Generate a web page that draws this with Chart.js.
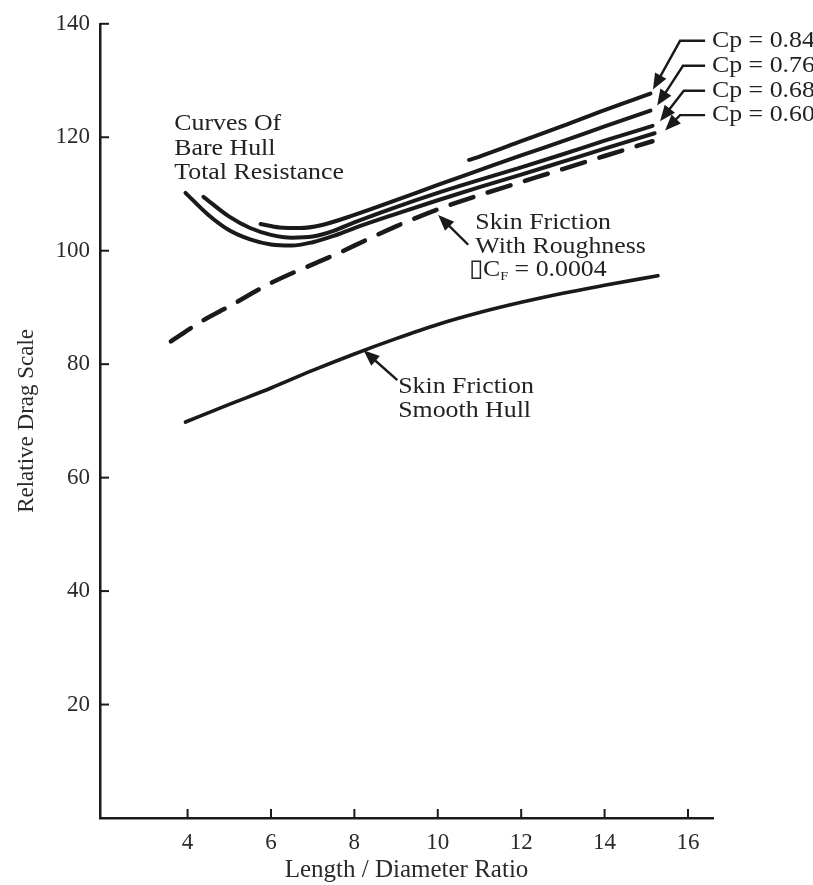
<!DOCTYPE html>
<html><head><meta charset="utf-8">
<script src="https://cdn.jsdelivr.net/npm/chart.js@4.4.0/dist/chart.umd.min.js"></script>
<style>html,body{margin:0;padding:0;background:#fff}#wrap{width:813px;height:885px}</style>
</head><body><div id="wrap"><canvas id="c" width="813" height="885"></canvas></div>
<script>
// ---- data ----
const X_TICKS = [4, 6, 8, 10, 12, 14, 16];
const Y_TICKS = [20, 40, 60, 80, 100, 120, 140];

const CP084_X = [10.75, 11, 12, 13, 14, 15.1];
const CP084_Y = [116.0, 116.6, 119.3, 122.0, 124.8, 127.7];

const CP076_X = [5.75, 6.2, 6.7, 7.2, 8, 9, 10, 11, 12, 13, 14, 15.1];
const CP076_Y = [104.7, 104.1, 104.0, 104.5, 106.3, 108.9, 111.6, 114.2, 116.8, 119.3, 121.9, 124.7];

const CP068_X = [4.38, 5, 5.5, 6, 6.5, 7, 7.5, 8, 9, 10, 11, 12, 13, 14, 15.15];
const CP068_Y = [109.5, 106.0, 104.0, 102.8, 102.3, 102.5, 103.5, 105.0, 107.7, 110.2, 112.5, 114.7, 117.0, 119.4, 122.0];

const CP060_X = [3.95, 4.5, 5, 5.5, 6, 6.5, 7, 7.5, 8, 9, 10, 11, 12, 13, 14, 15.2];
const CP060_Y = [110.2, 106.3, 103.6, 102.0, 101.1, 100.9, 101.5, 102.6, 104.0, 106.5, 108.9, 111.2, 113.4, 115.7, 118.0, 120.7];

const ROUGH_X = [3.6, 4.3, 5, 6, 7, 7.54, 8, 9, 10, 11, 12, 13, 14, 15.15];
const ROUGH_Y = [84.0, 87.4, 90.2, 94.3, 97.6, 99.3, 100.9, 104.3, 107.3, 109.8, 112.1, 114.4, 116.7, 119.3];

const SMOOTH_X = [3.95, 5, 6, 7, 8, 9, 10, 11, 12, 13, 14, 15.28];
const SMOOTH_Y = [69.8, 72.9, 75.8, 78.9, 81.8, 84.5, 87.0, 89.1, 90.9, 92.5, 93.9, 95.6];

const CP_LABELS = ['Cp = 0.84', 'Cp = 0.76', 'Cp = 0.68', 'Cp = 0.60'];

// ---- annotation placement (data coordinates) ----
const TEXT_BLOCKS = [
  {x: 3.68, y: 122.3, gap: 24.5, lines: ['Curves Of', 'Bare Hull', 'Total Resistance']},
  {x: 10.90, y: 104.9, gap: 24, lines: ['Skin Friction', 'With Roughness']},
  {x: 9.05, y: 75.96, gap: 24, lines: ['Skin Friction', 'Smooth Hull']}
];
const CF_LABEL = {x: 10.74, y: 96.6};
const ARROWS = [
  {x1: 10.73, y1: 101.05, x2: 10.01, y2: 106.3},
  {x1: 9.03, y1: 77.2, x2: 8.22, y2: 82.46}
];
const CP_TEXT_X = 16.575;
const CP_TEXT_Y = [137.0, 132.6, 128.2, 123.9];
const CP_LEAD_X0 = [16.41, 16.41, 16.41, 16.41];
const CP_LEAD_X1 = [15.81, 15.88, 15.90, 15.81];
const CP_TIP_X = [15.16, 15.26, 15.33, 15.45];
const CP_TIP_Y = [128.4, 125.6, 122.8, 121.2];

const FONT = '"Liberation Serif", "Times New Roman", serif';
const INK = '#1a1a1a';
const TXT = '#222';
const STRETCH = 1.1;

function series(xs, ys, extra) {
  return Object.assign({
    data: xs.map((x, i) => ({x: x, y: ys[i]})),
    showLine: true, pointRadius: 0, borderColor: INK, borderWidth: 4,
    cubicInterpolationMode: 'monotone', fill: false, borderCapStyle: 'round'
  }, extra || {});
}

function arrowHead(ctx, x1, y1, x2, y2, len, half) {
  const a = Math.atan2(y2 - y1, x2 - x1);
  ctx.beginPath();
  ctx.moveTo(x2, y2);
  ctx.lineTo(x2 - len * Math.cos(a) + half * Math.sin(a), y2 - len * Math.sin(a) - half * Math.cos(a));
  ctx.lineTo(x2 - len * Math.cos(a) - half * Math.sin(a), y2 - len * Math.sin(a) + half * Math.cos(a));
  ctx.closePath();
  ctx.fill();
}

// draws text slightly widened like the reference's lettering; returns advance width
function wideText(ctx, t, x, y, size) {
  ctx.save();
  ctx.font = size + 'px ' + FONT;
  ctx.translate(x, y);
  ctx.scale(STRETCH, 1);
  ctx.fillText(t, 0, 0);
  const w = ctx.measureText(t).width * STRETCH;
  ctx.restore();
  return w;
}

const decor = {
  id: 'decor',
  afterDraw(chart) {
    const ctx = chart.ctx, xs = chart.scales.x, ys = chart.scales.y;
    const X = v => xs.getPixelForValue(v), Y = v => ys.getPixelForValue(v);
    ctx.save();
    ctx.strokeStyle = INK; ctx.fillStyle = INK;
    // inward tick marks
    ctx.lineWidth = 2;
    X_TICKS.forEach(v => { const p = X(v); ctx.beginPath(); ctx.moveTo(p, ys.bottom); ctx.lineTo(p, ys.bottom - 9); ctx.stroke(); });
    Y_TICKS.forEach(v => { const p = Y(v); ctx.beginPath(); ctx.moveTo(xs.left, p); ctx.lineTo(xs.left + 9, p); ctx.stroke(); });

    // text blocks
    ctx.textBaseline = 'middle'; ctx.textAlign = 'left';
    ctx.fillStyle = TXT;
    TEXT_BLOCKS.forEach(b => {
      b.lines.forEach((t, i) => wideText(ctx, t, X(b.x), Y(b.y) + i * b.gap, 23.5));
    });
    // delta C_F label
    let cx = X(CF_LABEL.x), cy = Y(CF_LABEL.y);
    cx += wideText(ctx, '\u25AFC', cx, cy, 23.5);
    cx += wideText(ctx, 'F', cx, cy + 7, 13);
    wideText(ctx, ' = 0.0004', cx, cy, 23.5);

    // arrows
    ctx.fillStyle = INK; ctx.lineWidth = 2.4;
    ARROWS.forEach(a => {
      const x1 = X(a.x1), y1 = Y(a.y1), x2 = X(a.x2), y2 = Y(a.y2);
      const ang = Math.atan2(y2 - y1, x2 - x1);
      ctx.beginPath(); ctx.moveTo(x1, y1); ctx.lineTo(x2 - 8 * Math.cos(ang), y2 - 8 * Math.sin(ang)); ctx.stroke();
      arrowHead(ctx, x1, y1, x2, y2, 16, 6.5);
    });

    // Cp labels with leaders
    CP_LABELS.forEach((t, i) => {
      const ty = Y(CP_TEXT_Y[i]);
      ctx.fillStyle = TXT;
      wideText(ctx, t, X(CP_TEXT_X), ty, 23.5);
      const hx0 = X(CP_LEAD_X0[i]), hx1 = X(CP_LEAD_X1[i]);
      const tx = X(CP_TIP_X[i]), tyy = Y(CP_TIP_Y[i]);
      ctx.lineWidth = 2.4; ctx.strokeStyle = INK; ctx.fillStyle = INK;
      const ang = Math.atan2(tyy - ty, tx - hx1);
      ctx.beginPath(); ctx.moveTo(hx0, ty); ctx.lineTo(hx1, ty);
      ctx.lineTo(tx - 8 * Math.cos(ang), tyy - 8 * Math.sin(ang)); ctx.stroke();
      arrowHead(ctx, hx1, ty, tx, tyy, 16, 6.5);
    });
    ctx.restore();
  }
};

new Chart(document.getElementById('c'), {
  type: 'scatter',
  data: {
    datasets: [
      series(CP084_X, CP084_Y),
      series(CP076_X, CP076_Y),
      series(CP068_X, CP068_Y),
      series(CP060_X, CP060_Y),
      series(ROUGH_X, ROUGH_Y, {borderDash: [24, 15], borderWidth: 4.5, borderCapStyle: 'round'}),
      series(SMOOTH_X, SMOOTH_Y, {borderWidth: 3.6})
    ]
  },
  options: {
    responsive: false, animation: false, devicePixelRatio: 1,
    layout: {padding: {top: 20, right: 100, left: 0, bottom: 0}},
    plugins: {legend: {display: false}, tooltip: {enabled: false}},
    scales: {
      x: {
        type: 'linear', min: 1.9, max: 16.6,
        grid: {display: false, drawTicks: false},
        border: {display: true, color: INK, width: 2.5},
        afterBuildTicks: s => { s.ticks = X_TICKS.map(v => ({value: v})); },
        afterFit: s => { s.height = 67; },
        ticks: {padding: 11, color: '#2a2a2a', maxRotation: 0, autoSkip: false, font: {family: FONT, size: 23}},
        title: {display: true, text: 'Length / Diameter Ratio', color: '#2a2a2a', font: {family: FONT, size: 25}, padding: {top: 0, bottom: 0}}
      },
      y: {
        type: 'linear', min: 0, max: 140,
        grid: {display: false, drawTicks: false},
        border: {display: true, color: INK, width: 2.5},
        afterBuildTicks: s => { s.ticks = Y_TICKS.map(v => ({value: v})); },
        afterFit: s => { s.width = 100; },
        ticks: {padding: 10, color: '#2a2a2a', autoSkip: false, font: {family: FONT, size: 23}},
        title: {display: true, text: 'Relative Drag Scale', color: '#2a2a2a', font: {family: FONT, size: 23}, padding: {top: 13, bottom: 0}}
      }
    }
  },
  plugins: [decor]
});
</script></body></html>
